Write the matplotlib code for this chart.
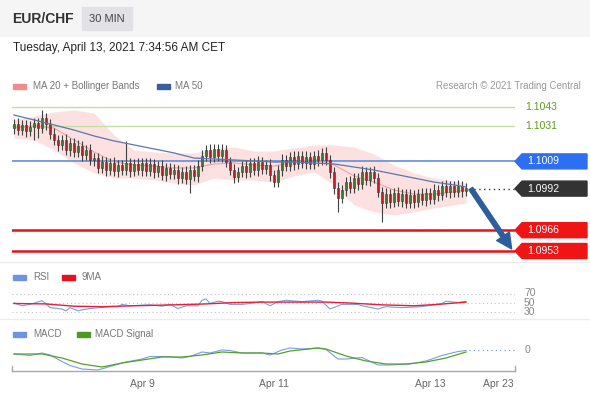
import matplotlib.pyplot as plt
import matplotlib.patches as mpatches
import matplotlib.transforms as mtransforms
from matplotlib.lines import Line2D
import numpy as np

plt.rcParams['font.family'] = ['Liberation Sans', 'DejaVu Sans']

W, H = 590, 400

# ---- price data (30 min bars) ----
first_open = 1.10299
closes = [
    1.10324, 1.10286, 1.10318, 1.10280, 1.10305, 1.10330, 1.10299, 1.10361, 1.10324, 1.10261,
    1.10224, 1.10193, 1.10224, 1.10161, 1.10205, 1.10149, 1.10186, 1.10130, 1.10161, 1.10099,
    1.10111, 1.10049, 1.10086, 1.10036, 1.10080, 1.10030, 1.10068, 1.10036, 1.10080, 1.10030,
    1.10074, 1.10036, 1.10080, 1.10030, 1.10074, 1.10024, 1.10061, 1.10005, 1.10049, 1.10011,
    1.10036, 1.09986, 1.10024, 1.09980, 1.10036, 1.09999, 1.10061, 1.10124, 1.10161, 1.10118,
    1.10168, 1.10124, 1.10161, 1.10086, 1.10036, 1.09993, 1.10024, 1.10061, 1.10024, 1.10080,
    1.10036, 1.10086, 1.10043, 1.10068, 1.10005, 1.09961, 1.10036, 1.10099, 1.10061, 1.10118,
    1.10074, 1.10124, 1.10080, 1.10118, 1.10074, 1.10124, 1.10099, 1.10143, 1.10099, 1.10024,
    1.09924, 1.09861, 1.09911, 1.09961, 1.09924, 1.09986, 1.09949, 1.10024, 1.09974, 1.10024,
    1.09986, 1.09899, 1.09830, 1.09886, 1.09836, 1.09893, 1.09843, 1.09886, 1.09830, 1.09880,
    1.09836, 1.09886, 1.09849, 1.09893, 1.09855, 1.09911, 1.09880, 1.09936, 1.09899, 1.09936,
    1.09899, 1.09936, 1.09905, 1.09924,
]
# wick lengths beyond the body, in pips
up_wick = [
    3, 4, 3, 3, 4, 3, 3, 5, 3, 3,
    4, 3, 3, 4, 3, 3, 4, 3, 3, 4,
    3, 3, 4, 3, 3, 4, 3, 3, 14, 3,
    3, 4, 3, 3, 4, 3, 3, 4, 3, 3,
    4, 3, 3, 4, 3, 3, 4, 4, 3, 4,
    3, 3, 4, 3, 3, 4, 3, 3, 4, 3,
    3, 4, 3, 3, 4, 3, 3, 4, 3, 3,
    4, 3, 3, 4, 3, 3, 4, 3, 4, 3,
    3, 4, 3, 3, 4, 3, 3, 4, 3, 3,
    4, 3, 3, 4, 3, 3, 4, 3, 3, 4,
    3, 3, 4, 3, 3, 4, 3, 3, 4, 3,
    3, 4, 3, 3,
]
dn_wick = [
    4, 3, 3, 4, 3, 8, 6, 3, 4, 3,
    3, 4, 3, 3, 4, 3, 3, 4, 3, 3,
    4, 3, 3, 4, 3, 3, 4, 3, 3, 4,
    3, 3, 4, 3, 3, 4, 3, 3, 4, 3,
    3, 4, 3, 3, 9, 3, 4, 3, 3, 4,
    3, 3, 4, 3, 3, 4, 3, 3, 4, 3,
    3, 4, 3, 3, 4, 3, 3, 4, 3, 3,
    4, 3, 3, 4, 3, 3, 4, 3, 3, 4,
    4, 9, 3, 4, 3, 3, 4, 3, 3, 4,
    3, 3, 12, 3, 4, 3, 3, 4, 3, 3,
    4, 3, 3, 4, 3, 3, 4, 3, 3, 4,
    3, 3, 4, 3,
]

# ---- indicators, sampled on bar index ----
bb_idx = [0, 5, 10, 15, 20, 25, 30, 35, 40, 45, 50, 55, 60, 65, 70, 75, 80, 85, 90, 95, 100, 105, 110, 113]
bb_upper = [1.10349, 1.10374, 1.10399, 1.10411, 1.10393, 1.10255, 1.10161, 1.10149, 1.10143, 1.10143,
            1.10168, 1.10180, 1.10155, 1.10155, 1.10174, 1.10193, 1.10193, 1.10180, 1.10136, 1.10068,
            1.10018, 1.09986, 1.09968, 1.09955]
bb_lower = [1.10236, 1.10224, 1.10161, 1.10080, 1.10018, 1.09986, 1.09986, 1.09974, 1.09955, 1.09943,
            1.09986, 1.09974, 1.09974, 1.09961, 1.09999, 1.10024, 1.09943, 1.09818, 1.09774, 1.09755,
            1.09774, 1.09799, 1.09818, 1.09830]
ma20 = [1.10299, 1.10311, 1.10299, 1.10224, 1.10149, 1.10086, 1.10068, 1.10061, 1.10049, 1.10049,
        1.10074, 1.10080, 1.10068, 1.10061, 1.10086, 1.10105, 1.10068, 1.09999, 1.09961, 1.09911,
        1.09886, 1.09886, 1.09899, 1.09911]
ma50 = [1.10380, 1.10349, 1.10318, 1.10286, 1.10249, 1.10218, 1.10193, 1.10168, 1.10143, 1.10111,
        1.10105, 1.10099, 1.10093, 1.10086, 1.10086, 1.10080, 1.10074, 1.10055, 1.10036, 1.10011,
        1.09986, 1.09961, 1.09943, 1.09930]

rsi_idx = [0, 2, 4, 7, 8, 9, 12, 13, 14, 16, 17, 19, 24, 26, 27, 29, 34, 37, 39, 41, 43, 46, 47, 48, 49,
           51, 52, 54, 57, 59, 62, 64, 66, 68, 72, 76, 77, 79, 82, 86, 87, 91, 93, 97, 102, 107, 108, 111, 113]
rsi = [50, 44, 47, 55, 48, 40, 37, 33, 40, 33, 35, 38, 42, 42, 47, 44, 46, 43, 47, 38, 44, 44, 56, 59, 49,
       54, 53, 47, 47, 49, 53, 44, 53, 56, 53, 56, 54, 37, 47, 47, 44, 37, 42, 40, 42, 49, 54, 51, 53]
rsi_ma_idx = [0, 8, 15, 22, 30, 40, 48, 55, 62, 70, 78, 84, 92, 100, 106, 113]
rsi_ma = [49, 48, 43, 42, 44, 46, 48, 51, 52, 52, 52, 50, 46, 44, 47, 52]

macd_idx = [0, 4, 7, 9, 12, 14, 17, 21, 24, 28, 32, 34, 38, 42, 44, 47, 49, 52, 54, 57, 59, 62, 64, 67, 69,
            72, 76, 78, 81, 83, 87, 91, 94, 99, 103, 107, 111, 113]
macd = [-0.8, -1.1, -0.6, -1.0, -2.3, -3.1, -3.8, -4.0, -3.3, -2.4, -1.8, -1.3, -1.3, -1.6, -1.3, -0.4,
        -0.6, 0.0, -0.1, -0.6, -0.6, -0.6, -1.0, 0.0, 0.4, 0.2, 0.4, 0.1, -1.8, -1.8, -1.5, -3.0, -3.0,
        -2.8, -2.2, -1.1, -0.3, -0.1]
signal_idx = [0, 7, 12, 17, 22, 27, 32, 37, 42, 47, 52, 57, 62, 66, 69, 76, 78, 83, 88, 93, 98, 103, 108, 113]
signal = [-0.8, -0.8, -1.6, -2.8, -3.4, -2.6, -2.0, -1.4, -1.4, -1.0, -0.4, -0.6, -0.6, -0.8, -0.2, 0.4,
          0.2, -1.2, -2.2, -2.8, -2.8, -2.4, -1.6, -0.4]

# key levels
resist_levels = [1.1043, 1.1031]
pivot = 1.1009
last_price = 1.0992
support_levels = [1.0966, 1.0953]
target_price = 1.09543

tick_pos = [32, 65, 104, 121]
tick_labels = ["Apr 9", "Apr 11", "Apr 13", "Apr 23"]


def fx(px):
    return px / W


def fy(py):
    return 1 - py / H


fig = plt.figure(figsize=(W / 100, H / 100), dpi=100)
fig.patch.set_facecolor('white')

# header band
fig.patches.append(mpatches.Rectangle((0, fy(36)), 1, 36 / H, transform=fig.transFigure,
                                      color='#f5f5f5', zorder=0))
fig.patches.append(mpatches.Rectangle((fx(82), fy(30)), 50 / W, 23 / H, transform=fig.transFigure,
                                      color='#e1e1e6', zorder=1))
fig.text(fx(12), fy(19), "EUR/CHF", fontsize=10, fontweight='bold', color='#333333', va='center')
fig.text(fx(107), fy(19), "30 MIN", fontsize=8, color='#444444', va='center', ha='center')
fig.text(fx(13), fy(48), "Tuesday, April 13, 2021 7:34:56 AM CET", fontsize=8.5, color='#222222',
         va='center')


def legend_item(px, py, color, label, text_dx=20):
    fig.patches.append(mpatches.Rectangle((fx(px), fy(py + 2.5)), 13 / W, 5 / H,
                                          transform=fig.transFigure, color=color))
    fig.text(fx(px + text_dx), fy(py), label, fontsize=7, color='#777777', va='center')


legend_item(13, 86, '#f28b8b', "MA 20 + Bollinger Bands")
legend_item(157, 86, '#3a5d9c', "MA 50", text_dx=18)
fig.text(fx(581), fy(86), "Research © 2021 Trading Central", fontsize=7, color='#999999',
         va='center', ha='right')
legend_item(13, 277, '#6f93dc', "RSI")
legend_item(62, 277, '#e8101e', "9MA")
legend_item(13, 334, '#6f93dc', "MACD")
legend_item(77, 334, '#4c9a22', "MACD Signal", text_dx=18)

for sep in [262, 319]:
    fig.lines.append(Line2D([0, 1], [fy(sep), fy(sep)], transform=fig.transFigure,
                            color='#ececec', lw=1))

xlim = (-0.5, 125.25)

# ---- price panel ----
ax = fig.add_axes([fx(12), fy(262), 503 / W, (262 - 95) / H])
ax.set_xlim(*xlim)
ax.set_ylim(1.0946125, 1.10505)
ax.axis('off')

ax.fill_between(bb_idx, bb_lower, bb_upper, color='#fde1e1', lw=0, zorder=1)
ax.plot(bb_idx, ma20, color='#f4a0a0', lw=0.8, zorder=2)

for lv in resist_levels:
    ax.axhline(lv, color='#c3dea4', lw=1, zorder=1)
ax.axhline(pivot, color='#6b96dc', lw=1.3, zorder=1)
for lv in support_levels:
    ax.axhline(lv, color='#e8101a', lw=1.8, zorder=1)

closes_a = np.array(closes)
opens_a = np.concatenate([[first_open], closes_a[:-1]])
idx = np.arange(len(closes_a))
pip = 0.0001
highs = np.maximum(opens_a, closes_a) + np.array(up_wick) * pip
lows = np.minimum(opens_a, closes_a) - np.array(dn_wick) * pip
up = closes_a >= opens_a
body_colors = np.where(up, '#3d7a2e', '#b3202a')
ax.vlines(idx, lows, highs, color='#3f3f3f', lw=0.8, zorder=3)
body_h = np.maximum(np.abs(closes_a - opens_a), 0.00004)
ax.bar(idx, body_h, bottom=np.minimum(opens_a, closes_a), width=0.7, color=body_colors,
       edgecolor='#3a3a3a', linewidth=0.4, zorder=4)

ax.plot(bb_idx, ma50, color='#5a78ad', lw=0.9, zorder=5)

ax.hlines(last_price, len(closes_a) - 0.3, xlim[1], color='#333333', lw=1, linestyles=(0, (1, 2.5)),
          zorder=2)

ax.annotate('', xy=(124.4, target_price), xytext=(114.2, last_price),
            arrowprops=dict(facecolor='#2e5d9c', edgecolor='#2e5d9c', width=3.2, headwidth=11,
                            headlength=11, shrink=0), zorder=6)

trans = mtransforms.blended_transform_factory(ax.transAxes, ax.transData)
half = 7.5 * 0.0000625
x_tip, x_notch, x_right = 1.0, (522 - 12) / 503, (587 - 12) / 503
x_text = (527 - 12) / 503


def level_box(level, color):
    poly = mpatches.Polygon([(x_tip, level), (x_notch, level + half), (x_right, level + half),
                             (x_right, level - half), (x_notch, level - half)],
                            closed=True, transform=trans, color=color, clip_on=False, zorder=7)
    ax.add_patch(poly)
    ax.text(x_text, level, f"{level:.4f}", transform=trans, fontsize=7.5, color='white',
            va='center', ha='left', zorder=8)


for lv in resist_levels:
    ax.text((525 - 12) / 503, lv, f"{lv:.4f}", transform=trans, fontsize=7.5, color='#5f9a1c',
            va='center', ha='left')
level_box(pivot, '#2c6ff0')
level_box(last_price, '#333333')
for lv in support_levels:
    level_box(lv, '#f01515')

# ---- RSI panel ----
ax_rsi = fig.add_axes([fx(12), fy(318), 503 / W, 32 / H])
ax_rsi.set_xlim(*xlim)
ax_rsi.set_ylim(17.4, 87)
ax_rsi.axis('off')
for lv in [70, 50, 30]:
    ax_rsi.axhline(lv, color='#c4c4c4', lw=0.8, linestyle=(0, (1, 2.5)))
    ax_rsi.text((524 - 12) / 503, lv + (2 if lv == 70 else 0), str(lv), transform=ax_rsi.get_yaxis_transform(),
                fontsize=7.5, color='#888888', va='center', ha='left')
ax_rsi.plot(rsi_idx, rsi, color='#7b9de0', lw=0.8)
ax_rsi.plot(rsi_ma_idx, rsi_ma, color='#e3203a', lw=1.0)

# ---- MACD panel ----
ax_m = fig.add_axes([fx(12), fy(371), 503 / W, 33 / H])
ax_m.set_xlim(*xlim)
ax_m.set_ylim(-4.2, 2.4)
for s in ['top', 'left', 'right']:
    ax_m.spines[s].set_visible(False)
ax_m.spines['bottom'].set_color('#aaaaaa')
ax_m.spines['bottom'].set_linewidth(1)
ax_m.set_yticks([])
ax_m.set_xticks(tick_pos)
ax_m.set_xticklabels(tick_labels)
ax_m.tick_params(axis='x', length=0, pad=6, labelsize=7.5, labelcolor='#666666')
ax_m.patch.set_alpha(0)
for xe in [0, 1]:
    ax_m.plot([xe, xe], [0, 0.15], transform=ax_m.transAxes, color='#aaaaaa', lw=1, clip_on=False)
ax_m.plot(macd_idx, macd, color='#7b9de0', lw=0.8)
ax_m.plot(signal_idx, signal, color='#55a02a', lw=0.9)
ax_m.hlines(0, len(closes_a) - 0.3, xlim[1], color='#7b9de0', lw=0.9, linestyles=(0, (1, 2.5)))
ax_m.text((525 - 12) / 503, 0, "0", transform=ax_m.get_yaxis_transform(), fontsize=7.5,
          color='#888888', va='center', ha='left')

fig.savefig('out.png', dpi=100)
